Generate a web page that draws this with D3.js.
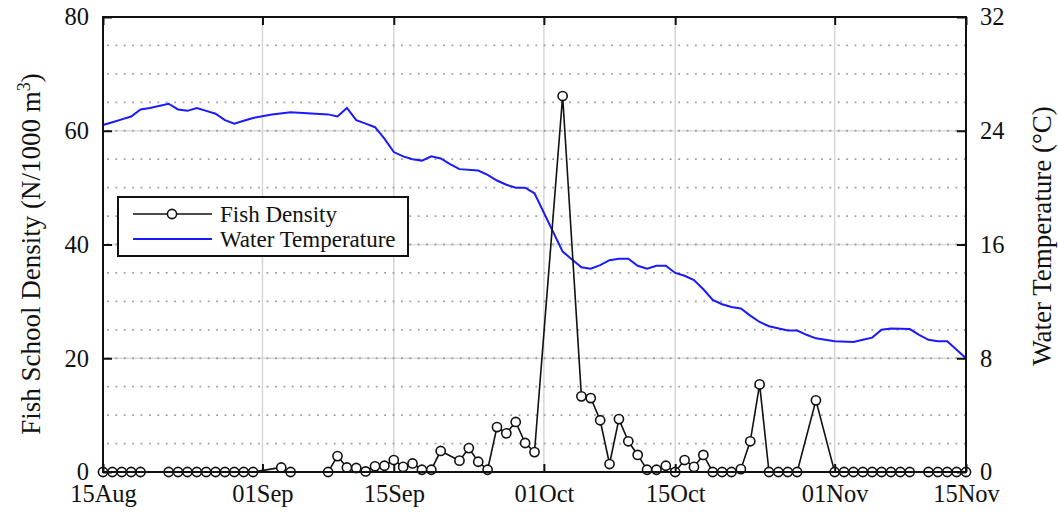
<!DOCTYPE html>
<html>
<head>
<meta charset="utf-8">
<script src="https://cdn.jsdelivr.net/npm/d3@7"></script>
<style>
  body { margin: 0; background: #fff; }
  text { font-family: "Liberation Serif", "Times New Roman", serif; fill: #111; }
</style>
</head>
<body>
<div id="chart"></div>
<script>
// days counted from 15 Aug
var fishDay = [0,1,2,3,4, 7,8,9,10,11,12,13,14,15,16, 19,20, 24,25,26,27,28,29,30,31,32,33,34,35,36, 38,39,40,41,42,43,44,45,46, 49, 51,52,53,54,55,56,57,58,59,60,61,62,63,64,65,66,67,68,69,70,71,72,73,74, 76, 78,79,80,81,82,83,84,85,86, 88,89,90,91,92]
var fishDensity = [0,0,0,0,0, 0,0,0,0,0,0,0,0,0,0, 0.8,0, 0,2.8,0.8,0.7,0.1,1.0,1.1,2.1,0.9,1.5,0.4,0.4,3.7, 2.0,4.2,1.8,0.4,7.9,6.8,8.8,5.1,3.5, 66.1, 13.3,13.0,9.1,1.4,9.3,5.4,3.0,0.4,0.4,1.1,0,2.1,0.9,3.0,0,0,0,0.5,5.4,15.4,0,0,0,0, 12.6, 0,0,0,0,0,0,0,0,0, 0,0,0,0,0]

var tempDay = [0,1,2,3,4,5,7,8,9,10,11,12,13,14,15,16,18,20,24,25,26,27,28,29,30,31,32,33,34,35,36,37,38,40,41,42,43,44,45,46,49,50,51,52,53,54,55,56,57,58,59,60,61,62,63,64,65,66,67,68,69,70,71,73,74,75,76,78,80,81,82,83,84,86,87,88,89,90,92]
var waterTemp = [24.4,24.6,24.8,25.0,25.5,25.6,25.9,25.5,25.4,25.6,25.4,25.2,24.75,24.5,24.7,24.9,25.15,25.3,25.15,25.0,25.6,24.75,24.5,24.25,23.45,22.5,22.2,22.0,21.9,22.2,22.05,21.65,21.3,21.2,20.9,20.5,20.2,20.0,20.0,19.6,15.5,14.95,14.4,14.3,14.55,14.9,15.0,15.0,14.5,14.3,14.5,14.5,14.0,13.8,13.5,12.85,12.1,11.8,11.6,11.5,11.0,10.55,10.25,9.95,9.95,9.65,9.4,9.2,9.15,9.3,9.45,10.0,10.1,10.05,9.65,9.3,9.2,9.2,8.0]

var dateTicks = ['2013-08-15','2013-09-01','2013-09-15','2013-10-01','2013-10-15','2013-11-01','2013-11-15']
var densityTicks = [0,20,40,60,80]
var tempTicks = [0,8,16,24,32]

;(function(){
  var width = 1058, height = 514
  var m = {left: 103, right: 966, top: 17, bottom: 472}

  var parse = d3.timeParse('%Y-%m-%d')
  var start = parse('2013-08-15')
  var dayToDate = function(d){ return new Date(start.getTime() + d * 864e5) }

  var svg = d3.select('#chart').append('svg')
    .attr('width', width)
    .attr('height', height)

  var x = d3.scaleTime().domain([start, parse('2013-11-15')]).range([m.left, m.right])
  var y = d3.scaleLinear().domain([0, 80]).range([m.bottom, m.top])
  var y2 = d3.scaleLinear().domain([0, 32]).range([m.bottom, m.top])

  // grid
  var grid = svg.append('g')
  grid.selectAll('.vgrid')
    .data(dateTicks.map(parse))
    .enter().append('line')
    .attr('x1', x).attr('x2', x)
    .attr('y1', m.top).attr('y2', m.bottom)
    .attr('stroke', '#d6d6d6')
    .attr('stroke-width', 1.5)

  grid.selectAll('.hmajor')
    .data([20, 40, 60])
    .enter().append('line')
    .attr('x1', m.left).attr('x2', m.right)
    .attr('y1', y).attr('y2', y)
    .attr('stroke', '#dcdcdc')
    .attr('stroke-width', 1.5)

  grid.selectAll('.hminor')
    .data(d3.range(5, 80, 5))
    .enter().append('line')
    .attr('x1', m.left + 4).attr('x2', m.right)
    .attr('y1', y).attr('y2', y)
    .attr('stroke', '#a0a0a0')
    .attr('stroke-width', 1.8)
    .attr('stroke-dasharray', '1.8,6.6')

  // water temperature
  var tempData = tempDay.map(function(d, i){ return {date: dayToDate(d), v: waterTemp[i]} })
  svg.append('path')
    .datum(tempData)
    .attr('fill', 'none')
    .attr('stroke', '#1a1aff')
    .attr('stroke-width', 2)
    .attr('d', d3.line().x(function(d){ return x(d.date) }).y(function(d){ return y2(d.v) }))

  // fish density
  var fishData = fishDay.map(function(d, i){ return {date: dayToDate(d), v: fishDensity[i]} })
  svg.append('path')
    .datum(fishData)
    .attr('fill', 'none')
    .attr('stroke', '#111')
    .attr('stroke-width', 1.6)
    .attr('d', d3.line().x(function(d){ return x(d.date) }).y(function(d){ return y(d.v) }))

  svg.selectAll('.fish')
    .data(fishData)
    .enter().append('circle')
    .attr('cx', function(d){ return x(d.date) })
    .attr('cy', function(d){ return y(d.v) })
    .attr('r', 4.6)
    .attr('fill', '#fff')
    .attr('stroke', '#111')
    .attr('stroke-width', 1.6)

  // axes (ticks inward)
  var fmt = d3.timeFormat('%d%b')
  svg.append('g')
    .attr('transform', 'translate(0,' + m.bottom + ')')
    .call(d3.axisBottom(x).tickValues(dateTicks.map(parse)).tickFormat(fmt).tickSize(-8).tickPadding(13))
  svg.append('g')
    .attr('transform', 'translate(0,' + m.top + ')')
    .call(d3.axisTop(x).tickValues(dateTicks.map(parse)).tickFormat('').tickSize(-8))
  svg.append('g')
    .attr('transform', 'translate(' + m.left + ',0)')
    .call(d3.axisLeft(y).tickValues(densityTicks).tickSize(-9).tickPadding(14))
  svg.append('g')
    .attr('transform', 'translate(' + m.right + ',0)')
    .call(d3.axisRight(y2).tickValues(tempTicks).tickSize(-9).tickPadding(14))

  svg.selectAll('.domain').remove()
  svg.selectAll('.tick line').attr('stroke', '#111').attr('stroke-width', 2)
  svg.selectAll('.tick text').style('font-size', '24.5px').attr('fill', '#111')

  svg.append('rect')
    .attr('x', m.left).attr('y', m.top)
    .attr('width', m.right - m.left).attr('height', m.bottom - m.top)
    .attr('fill', 'none')
    .attr('stroke', '#111')
    .attr('stroke-width', 2)

  // axis titles
  var lt = svg.append('text')
    .attr('transform', 'translate(40,254) rotate(-90)')
    .attr('text-anchor', 'middle')
    .style('font-size', '27px')
  lt.append('tspan').text('Fish School Density (N/1000 m')
  lt.append('tspan').attr('dy', -10).style('font-size', '18px').text('3')
  lt.append('tspan').attr('dy', 10).text(')')

  svg.append('text')
    .attr('transform', 'translate(1051,236) rotate(-90)')
    .attr('text-anchor', 'middle')
    .style('font-size', '27px')
    .text('Water Temperature (\u00B0C)')

  // legend
  var lg = svg.append('g').attr('transform', 'translate(118,197)')
  lg.append('rect')
    .attr('width', 290).attr('height', 59)
    .attr('fill', '#fff')
    .attr('stroke', '#111')
    .attr('stroke-width', 2)
  lg.append('line').attr('x1', 15).attr('x2', 94).attr('y1', 17).attr('y2', 17)
    .attr('stroke', '#111').attr('stroke-width', 1.6)
  lg.append('circle').attr('cx', 54).attr('cy', 17).attr('r', 4.6)
    .attr('fill', '#fff').attr('stroke', '#111').attr('stroke-width', 1.6)
  lg.append('line').attr('x1', 15).attr('x2', 94).attr('y1', 42).attr('y2', 42)
    .attr('stroke', '#1a1aff').attr('stroke-width', 2)
  lg.append('text').attr('x', 102).attr('y', 25).style('font-size', '23px').text('Fish Density')
  lg.append('text').attr('x', 102).attr('y', 50).style('font-size', '23px').text('Water Temperature')
})()
</script>
</body>
</html>
